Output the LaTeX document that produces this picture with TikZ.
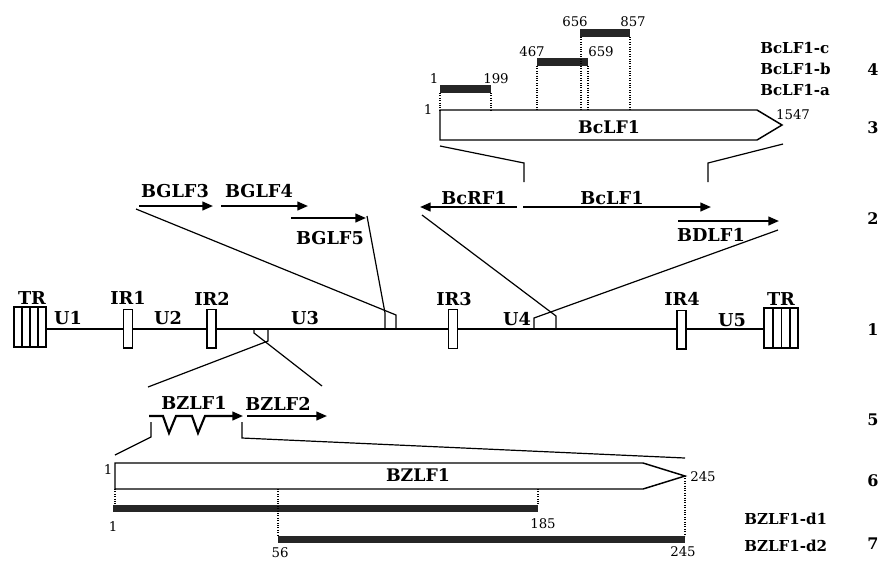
\documentclass[tikz,border=0pt]{standalone}
\usepackage{fontspec}
\setmainfont{DejaVu Serif}
\usetikzlibrary{arrows.meta}
\begin{document}
\begin{tikzpicture}[x=0.75pt,y=-0.75pt,
 lbl/.style={font=\bfseries\fontsize{13.3}{14}\selectfont, inner sep=0pt},
 rlbl/.style={font=\bfseries\fontsize{11.3}{12}\selectfont, inner sep=0pt, anchor=west},
 rownum/.style={font=\bfseries\fontsize{12}{12}\selectfont, inner sep=0pt},
 num/.style={font=\fontsize{10}{10}\selectfont, inner sep=0pt},
 boxtxt/.style={font=\bfseries\fontsize{13}{13}\selectfont, inner sep=0pt},
 genearrow/.style={line width=1.6pt, -{Triangle[length=8pt,width=6.5pt]}},
 proj/.style={line width=0.9pt},
 genome/.style={line width=2pt},
 boxline/.style={line width=1.1pt, fill=white},
 irbox/.style={draw, line width=1pt, fill=white, minimum width=6.75pt, minimum height=29pt, inner sep=0pt},
 dots/.style={line width=0.8pt, densely dotted},
 bar/.style={fill=black!85, draw=none},
]
\useasboundingbox (0,0) rectangle (884,562);

% ---------- row 1: genome ----------
\coordinate (gL) at (46,329);
\coordinate (gR) at (764,329);
\draw[genome] (gL) -- (gR);
% terminal repeats
\draw[boxline] (14,307) rectangle (46,347);
\foreach \x in {22,30,38} \draw[line width=1pt] (\x,307) -- (\x,347);
\draw[boxline] (764,308) rectangle (798,348);
\foreach \x in {773,781.5,790} \draw[line width=1pt] (\x,308) -- (\x,348);
\node[lbl] (trL) at (32,298) {TR};
\node[lbl] (trR) at (781,299) {TR};
% internal repeats
\node[irbox] (ir1) at (128,328.5) {};
\node[irbox] (ir2) at (211.5,328.5) {};
\node[irbox] (ir3) at (453,329) {};
\node[irbox] (ir4) at (681.5,329.5) {};
\node[lbl] at (128,298) {IR1};
\node[lbl] at (212,299) {IR2};
\node[lbl] at (454,299) {IR3};
\node[lbl] at (682,299) {IR4};
\node[lbl] at (68,318) {U1};
\node[lbl] at (168,318) {U2};
\node[lbl] at (305,318) {U3};
\node[lbl] at (517,319) {U4};
\node[lbl] at (732,320) {U5};

% ---------- row 2: genes ----------
\coordinate (g3s) at (139,206); \coordinate (g3e) at (213,206);
\coordinate (g4s) at (221,206); \coordinate (g4e) at (308,206);
\coordinate (g5s) at (291,218); \coordinate (g5e) at (366,218);
\coordinate (crs) at (517,207); \coordinate (cre) at (420,207);
\coordinate (cls) at (523,207); \coordinate (cle) at (711,207);
\coordinate (dls) at (678,221); \coordinate (dle) at (779,221);
\draw[genearrow] (g3s) -- (g3e);
\draw[genearrow] (g4s) -- (g4e);
\draw[genearrow] (g5s) -- (g5e);
\draw[genearrow] (crs) -- (cre);
\draw[genearrow] (cls) -- (cle);
\draw[genearrow] (dls) -- (dle);
\node[lbl] at (175,191) {BGLF3};
\node[lbl] at (259,191) {BGLF4};
\node[lbl] at (330,238) {BGLF5};
\node[lbl] at (474,198) {BcRF1};
\node[lbl] at (612,198) {BcLF1};
\node[lbl] at (711,235) {BDLF1};

% projection lines row 2 -> row 1
\coordinate (p1) at (136,209);
\coordinate (p2) at (367,216);
\coordinate (p3) at (422,215);
\coordinate (p4) at (778,230);
\draw[proj] (p1) -- (396,315) -- (396,329);
\draw[proj] (p2) -- (385,313) -- (385,329);
\draw[proj] (p3) -- (556,316) -- (556,329);
\draw[proj] (p4) -- (534,318) -- (534,329);

% ---------- row 3: BcLF1 ----------
\draw[boxline] (440,110) coordinate (bcA) -- (757,110) -- (782,125) coordinate (bcTip) -- (757,140) -- (440,140) -- cycle;
\node[boxtxt] at (609,127) {BcLF1};
\node[num] at (428,110) {1};
\node[num] at (793,115) {1547};
\draw[proj] (524,182) -- (524,163) -- (440,146);
\draw[proj] (708,182) -- (708,163) -- (783,144);

% ---------- row 4: BcLF1 fragments ----------
\fill[bar] (440,85) rectangle (491,93);
\fill[bar] (537,58) rectangle (588,66);
\fill[bar] (580,29) rectangle (630,37);
\draw[dots] (440,93) -- (440,110);
\draw[dots] (491,93) -- (491,110);
\draw[dots] (537,66) -- (537,110);
\draw[dots] (588,66) -- (588,110);
\draw[dots] (581,37) -- (581,110);
\draw[dots] (630,37) -- (630,110);
\node[num] at (434,79) {1};
\node[num] at (496,79) {199};
\node[num] at (532,52) {467};
\node[num] at (601,52) {659};
\node[num] at (575,22) {656};
\node[num] at (633,22) {857};
\node[rlbl] at (760,48) {BcLF1-c};
\node[rlbl] at (760,69) {BcLF1-b};
\node[rlbl] at (760,90) {BcLF1-a};

% ---------- row 5: BZLF1/BZLF2 ----------
\draw[proj] (254,329) -- (254,333) -- (322,386);
\draw[proj] (268,329) -- (268,341) -- (148,387);
\draw[line width=1.6pt, -{Triangle[length=8pt,width=6.5pt]}, line join=miter]
  (149,416) -- (163,416) -- (169,433) -- (176,416) -- (192,416) -- (198,433) -- (205,416) -- (243,416);
\draw[genearrow] (247,416) -- (327,416);
\node[lbl] at (194,403) {BZLF1};
\node[lbl] at (278,404) {BZLF2};
\draw[proj] (151,422) -- (151,437) -- (115,455);
\draw[proj] (242,422) -- (242,438) -- (685,458);

% ---------- row 6: BZLF1 protein ----------
\draw[boxline] (115,463) -- (643,463) -- (685,476) -- (643,489) -- (115,489) -- cycle;
\node[boxtxt] at (418,475) {BZLF1};
\node[num] at (108,470) {1};
\node[num] at (703,477) {245};

% ---------- row 7: deletions ----------
\fill[bar] (113,505) rectangle (538,512);
\fill[bar] (278,536) rectangle (685,543);
\draw[dots] (115,489) -- (115,505);
\draw[dots] (538,489) -- (538,505);
\draw[dots] (278,489) -- (278,536);
\draw[dots] (685,476) -- (685,536);
\node[num] at (113,527) {1};
\node[num] at (543,524) {185};
\node[num] at (280,553) {56};
\node[num] at (683,552) {245};
\node[rlbl] at (744,519) {BZLF1-d1};
\node[rlbl] at (744,546) {BZLF1-d2};

% row numbers
\node[rownum] at (873,330) {1};
\node[rownum] at (873,219) {2};
\node[rownum] at (873,128) {3};
\node[rownum] at (873,70) {4};
\node[rownum] at (873,420) {5};
\node[rownum] at (873,481) {6};
\node[rownum] at (873,544) {7};
\end{tikzpicture}
\end{document}
